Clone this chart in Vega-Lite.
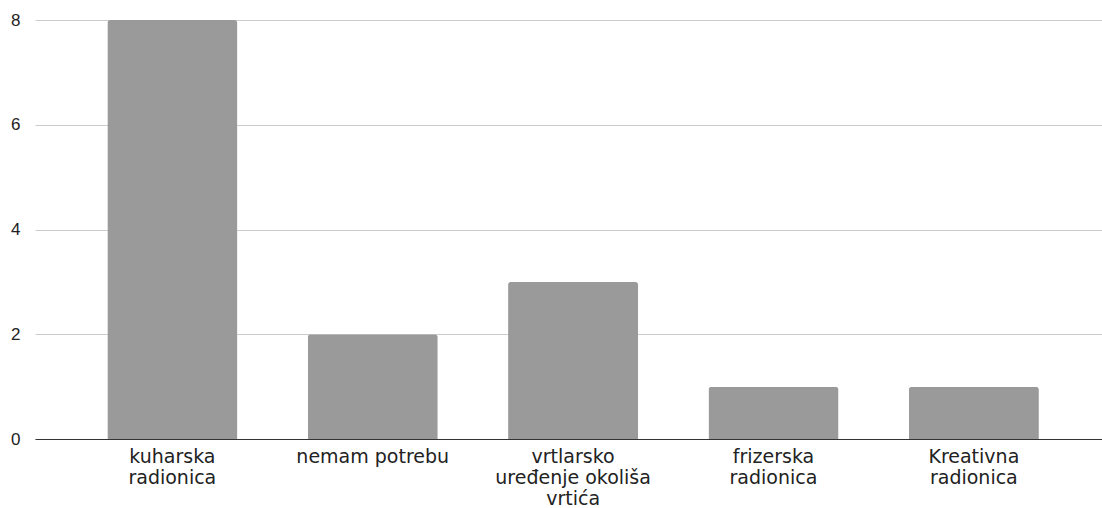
{
  "$schema": "https://vega.github.io/schema/vega-lite/v6.json",
  "width": 1067,
  "height": 419,
  "autosize": {"type": "none"},
  "padding": {"left": 35, "top": 20, "right": 0, "bottom": 69},
  "background": "white",
  "config": {"view": {"stroke": null}, "font": "Liberation Sans"},
  "data": {
    "values": [
      {"category": "kuharska radionica", "count": 8},
      {"category": "nemam potrebu", "count": 2},
      {"category": "vrtlarsko uređenje okoliša vrtića", "count": 3},
      {"category": "frizerska radionica", "count": 1},
      {"category": "Kreativna radionica", "count": 1}
    ]
  },
  "mark": {"type": "bar", "color": "#9a9a9a", "cornerRadiusTopLeft": 3, "cornerRadiusTopRight": 3},
  "encoding": {
    "x": {
      "field": "category",
      "type": "nominal",
      "sort": null,
      "scale": {"paddingInner": 0.351, "paddingOuter": 0.338, "align": 0.534},
      "axis": {
        "title": null,
        "labelAngle": 0,
        "ticks": false,
        "domainColor": "#333333",
        "domainWidth": 1,
        "labelFont": "DejaVu Sans",
        "labelFontSize": 19,
        "labelColor": "#222222",
        "labelPadding": 8,
        "labelLineHeight": 21,
        "labelLimit": 300,
        "labelExpr": "datum.value == 'kuharska radionica' ? ['kuharska', 'radionica'] : datum.value == 'vrtlarsko uređenje okoliša vrtića' ? ['vrtlarsko', 'uređenje okoliša', 'vrtića'] : datum.value == 'frizerska radionica' ? ['frizerska', 'radionica'] : datum.value == 'Kreativna radionica' ? ['Kreativna', 'radionica'] : datum.value"
      }
    },
    "y": {
      "field": "count",
      "type": "quantitative",
      "scale": {"domain": [0, 8], "nice": false},
      "axis": {
        "title": null,
        "values": [0, 2, 4, 6, 8],
        "domain": false,
        "ticks": false,
        "gridColor": "#cccccc",
        "gridWidth": 1,
        "labelFontSize": 17,
        "labelColor": "#222222",
        "labelPadding": 15
      }
    }
  }
}
